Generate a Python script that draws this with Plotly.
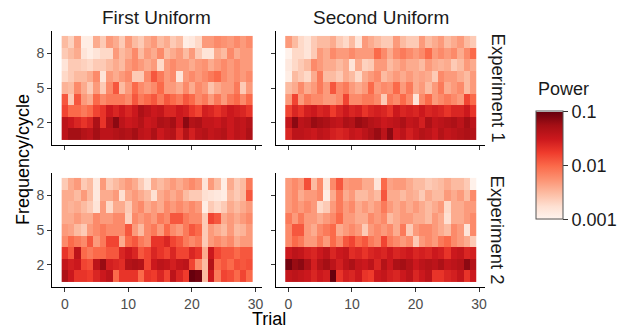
import plotly.graph_objects as go

# ---------------- data (log10 of power), rows listed from frequency 9 (top) down to 1 ----------------
trials = list(range(30))
freqs = [9, 8, 7, 6, 5, 4, 3, 2, 1]

exp1_first = [
    [-2.5,-2.65,-2.35,-2.9,-2.9,-2.4,-2.6,-2.3,-2.4,-2.6,-2.3,-2.5,-2.6,-2.4,-2.3,-2.5,-2.4,-2.6,-2.5,-2.9,-2.85,-2.7,-2.3,-2.3,-2.2,-2.25,-2.3,-2.2,-2.3,-2.2],
    [-2.6,-2.5,-2.4,-2.8,-2.9,-2.8,-2.7,-2.7,-2.3,-2.5,-2.4,-2.2,-2.5,-2.3,-2.4,-2.2,-2.5,-2.4,-2.3,-2.5,-2.3,-2.6,-2.8,-2.8,-2.4,-2.5,-2.2,-2.4,-2.3,-2.3],
    [-2.8,-2.6,-2.6,-2.65,-2.7,-2.6,-2.6,-2.5,-2.4,-2.5,-2.3,-2.2,-2.3,-2.4,-2.3,-2.7,-2.3,-2.2,-2.3,-2.3,-2.4,-2.3,-2.25,-2.4,-2.3,-2.2,-2.3,-2.2,-2.3,-2.3],
    [-2.7,-2.6,-2.5,-2.5,-2.4,-2.2,-2.8,-2.3,-2.4,-2.3,-2.2,-2.6,-2.6,-2.2,-1.9,-2.1,-2.3,-2.2,-2.8,-2.3,-2.2,-2.3,-2.2,-2.1,-2.0,-2.2,-2.3,-2.2,-2.3,-2.2],
    [-2.45,-2.5,-2.2,-2.4,-2.6,-2.3,-2.6,-2.2,-1.9,-2.5,-2.3,-2.0,-2.2,-2.3,-2.2,-2.0,-2.3,-2.3,-2.4,-2.2,-2.4,-2.2,-2.3,-2.55,-2.4,-2.3,-2.3,-2.1,-2.6,-2.3],
    [-1.9,-2.6,-1.9,-2.3,-2.4,-2.0,-2.2,-2.1,-2.1,-2.1,-2.2,-1.9,-2.1,-2.0,-1.9,-2.1,-1.9,-2.0,-2.1,-1.9,-2.0,-2.2,-2.1,-2.3,-2.1,-2.3,-2.1,-2.0,-2.2,-2.0],
    [-1.8,-2.0,-2.0,-2.1,-2.0,-1.8,-1.7,-1.5,-1.6,-1.5,-1.6,-1.5,-1.3,-1.4,-1.5,-1.45,-1.6,-1.6,-1.5,-1.55,-1.7,-1.8,-1.55,-1.6,-1.7,-1.6,-1.5,-1.55,-1.6,-1.7],
    [-1.4,-1.5,-1.6,-1.7,-1.6,-1.3,-1.7,-1.35,-1.15,-1.4,-1.5,-1.45,-1.35,-1.5,-1.45,-1.3,-1.35,-1.25,-1.5,-1.15,-1.35,-1.3,-1.45,-1.45,-1.5,-1.4,-1.5,-1.4,-1.45,-1.35],
    [-1.4,-1.25,-1.25,-1.35,-1.4,-1.25,-1.4,-1.4,-1.35,-1.3,-1.35,-1.25,-1.4,-1.45,-1.3,-1.5,-1.4,-1.35,-1.6,-1.35,-1.55,-1.4,-1.35,-1.45,-1.4,-1.35,-1.5,-1.4,-1.45,-1.3],
]

exp1_second = [
    [-2.3,-2.5,-2.7,-2.8,-2.6,-2.5,-2.5,-2.4,-2.6,-2.7,-2.5,-2.8,-2.3,-2.4,-2.5,-2.6,-2.6,-2.3,-2.5,-2.6,-2.6,-2.3,-2.5,-2.4,-2.3,-2.5,-2.4,-2.3,-2.5,-2.6],
    [-2.95,-2.7,-2.7,-2.8,-2.6,-2.3,-2.4,-2.2,-2.3,-2.3,-2.2,-2.3,-2.3,-2.3,-2.0,-2.2,-2.4,-2.2,-2.1,-2.2,-2.3,-2.2,-2.0,-2.3,-2.2,-2.3,-2.2,-2.4,-2.2,-2.0],
    [-2.85,-2.7,-2.6,-2.5,-2.2,-2.3,-2.4,-2.4,-2.5,-2.4,-2.8,-2.4,-2.65,-2.6,-2.3,-2.3,-2.5,-2.4,-2.3,-2.4,-2.4,-2.5,-2.3,-2.4,-2.45,-2.4,-2.6,-2.5,-2.3,-2.4],
    [-2.9,-2.5,-2.6,-2.7,-2.4,-2.1,-2.5,-2.5,-2.6,-2.4,-2.5,-2.7,-2.4,-2.3,-2.2,-2.5,-2.4,-2.3,-2.4,-2.3,-2.4,-2.35,-2.4,-2.6,-2.2,-2.3,-2.3,-2.4,-2.5,-2.3],
    [-2.5,-2.4,-2.2,-2.4,-2.3,-2.1,-2.3,-1.9,-2.2,-2.1,-2.3,-2.4,-2.3,-2.0,-2.3,-2.2,-2.25,-2.0,-2.3,-2.1,-2.4,-2.3,-2.5,-2.3,-2.1,-2.4,-2.3,-2.2,-2.5,-2.3],
    [-2.3,-1.8,-2.3,-2.1,-2.2,-2.2,-2.3,-2.3,-2.2,-1.8,-2.2,-2.2,-2.1,-2.1,-2.2,-2.6,-2.1,-2.2,-2.0,-2.2,-2.8,-2.2,-2.0,-2.3,-2.2,-2.1,-2.2,-2.3,-1.8,-2.0],
    [-1.8,-1.6,-1.7,-1.55,-1.5,-1.6,-1.55,-1.75,-1.6,-1.5,-1.6,-1.55,-1.7,-1.6,-1.55,-1.6,-1.7,-1.5,-1.6,-1.55,-1.6,-1.5,-1.6,-1.55,-1.6,-1.7,-1.6,-1.6,-1.5,-1.7],
    [-1.45,-1.15,-1.4,-1.35,-1.2,-1.25,-1.3,-1.4,-1.45,-1.3,-1.35,-1.2,-1.25,-1.35,-1.4,-1.5,-1.45,-1.4,-1.3,-1.45,-1.4,-1.55,-1.3,-1.45,-1.4,-1.35,-1.3,-1.4,-1.25,-1.4],
    [-1.6,-1.4,-1.4,-1.45,-1.5,-1.4,-1.45,-1.55,-1.6,-1.55,-1.45,-1.5,-1.4,-1.3,-1.2,-1.4,-1.15,-1.5,-1.4,-1.55,-1.45,-1.35,-1.4,-1.5,-1.35,-1.45,-1.4,-1.35,-1.3,-1.35],
]

exp2_first = [
    [-2.6,-2.4,-2.3,-2.6,-2.5,-2.85,-2.3,-2.6,-2.5,-2.4,-2.3,-2.4,-2.6,-2.8,-2.4,-2.5,-2.4,-2.3,-2.4,-2.3,-2.2,-2.3,-2.8,-2.3,-2.5,-2.9,-2.4,-2.6,-2.5,-2.1],
    [-2.4,-2.4,-2.5,-2.3,-2.5,-2.85,-2.4,-2.4,-2.3,-2.75,-2.4,-2.3,-2.4,-2.5,-2.75,-2.4,-2.3,-2.4,-2.3,-2.5,-2.6,-2.6,-2.75,-2.8,-2.85,-2.9,-2.5,-2.6,-2.5,-1.9],
    [-2.4,-2.45,-2.4,-2.5,-2.6,-2.8,-2.3,-2.7,-2.4,-2.4,-2.6,-2.3,-2.2,-2.4,-2.3,-2.4,-2.2,-2.3,-2.2,-2.3,-2.2,-2.3,-2.9,-2.6,-2.7,-2.6,-2.4,-2.5,-2.4,-2.3],
    [-2.4,-2.4,-2.3,-2.4,-2.4,-2.2,-2.3,-2.3,-2.2,-2.2,-2.65,-2.2,-2.3,-2.2,-2.3,-2.1,-2.2,-1.9,-1.9,-2.1,-2.2,-2.2,-2.6,-1.8,-1.9,-2.4,-2.3,-2.4,-2.3,-2.2],
    [-2.3,-2.35,-2.5,-2.6,-2.3,-2.2,-2.1,-2.2,-2.2,-2.2,-1.9,-2.3,-2.5,-2.2,-2.1,-2.3,-2.0,-2.2,-2.3,-2.1,-1.9,-2.0,-2.6,-2.3,-2.4,-2.5,-2.3,-2.5,-2.45,-2.3],
    [-2.2,-2.0,-2.1,-2.2,-1.9,-2.3,-2.1,-1.8,-1.8,-2.4,-2.0,-1.9,-2.1,-2.2,-1.7,-1.7,-1.6,-1.8,-1.9,-2.1,-2.2,-2.1,-2.6,-2.3,-2.2,-2.3,-2.2,-2.4,-2.3,-2.3],
    [-1.7,-1.9,-1.4,-2.0,-2.1,-2.0,-2.0,-1.9,-1.9,-1.6,-1.5,-1.6,-1.9,-1.8,-1.6,-1.7,-1.8,-1.6,-1.8,-1.8,-1.6,-1.7,-2.4,-1.5,-1.8,-1.9,-1.9,-2.0,-1.9,-1.9],
    [-1.45,-1.55,-1.5,-1.8,-1.85,-1.4,-1.2,-1.55,-1.6,-1.65,-1.35,-1.3,-1.35,-1.8,-1.5,-1.4,-1.45,-1.55,-1.45,-1.4,-1.8,-2.2,-2.5,-1.35,-2.0,-1.9,-2.0,-1.85,-1.9,-1.85],
    [-1.3,-1.5,-1.7,-1.7,-1.75,-1.6,-1.5,-1.4,-2.0,-1.7,-1.7,-1.7,-2.0,-1.7,-1.75,-1.6,-1.8,-1.4,-1.6,-1.75,-1.0,-1.05,-2.5,-1.5,-2.1,-1.8,-1.85,-2.0,-1.8,-2.0],
]

exp2_second = [
    [-2.3,-2.2,-2.3,-1.85,-2.5,-2.2,-2.8,-2.2,-1.9,-2.3,-2.25,-2.25,-2.4,-2.4,-2.8,-2.0,-2.35,-2.3,-2.3,-2.4,-2.5,-2.5,-2.6,-2.55,-2.5,-2.4,-2.5,-2.5,-2.6,-2.95],
    [-2.3,-2.2,-2.4,-2.3,-2.3,-2.2,-2.9,-2.4,-2.1,-2.4,-2.3,-2.5,-2.5,-2.4,-2.5,-1.9,-2.4,-2.4,-2.5,-2.4,-2.45,-2.6,-2.4,-2.5,-2.5,-2.3,-2.4,-2.3,-2.5,-2.2],
    [-2.3,-2.2,-2.3,-2.2,-2.3,-2.7,-2.6,-2.3,-2.1,-2.3,-2.2,-2.4,-2.3,-2.4,-2.3,-2.1,-2.3,-2.4,-2.3,-2.4,-2.3,-2.4,-2.5,-2.4,-2.3,-2.7,-2.4,-2.4,-2.3,-2.3],
    [-2.1,-2.3,-2.1,-2.3,-2.3,-2.4,-2.3,-2.2,-2.0,-2.3,-2.3,-2.4,-2.4,-2.2,-2.3,-2.2,-2.5,-2.4,-2.3,-2.3,-2.4,-2.4,-2.5,-2.3,-2.4,-2.75,-2.4,-2.4,-2.3,-2.2],
    [-2.2,-1.9,-1.9,-2.3,-2.4,-2.2,-2.1,-2.0,-2.4,-2.3,-2.2,-2.3,-2.6,-2.3,-2.2,-2.3,-2.2,-2.4,-2.1,-2.6,-2.3,-2.2,-2.2,-2.3,-2.4,-2.5,-2.2,-2.3,-2.8,-2.2],
    [-2.2,-2.0,-2.1,-2.3,-2.3,-2.1,-2.3,-2.0,-2.2,-1.9,-1.8,-2.0,-1.9,-2.1,-2.2,-1.8,-2.1,-2.2,-2.3,-2.2,-2.6,-2.3,-2.2,-2.3,-2.1,-2.0,-2.2,-2.3,-2.4,-2.6],
    [-1.5,-1.4,-1.45,-1.55,-1.6,-1.5,-1.4,-1.6,-1.5,-1.45,-1.65,-1.6,-1.7,-1.6,-1.55,-1.6,-1.5,-1.6,-1.55,-1.5,-1.6,-1.55,-1.6,-1.5,-1.55,-1.7,-1.5,-1.45,-1.6,-1.55],
    [-1.05,-1.2,-1.15,-1.3,-1.55,-1.35,-1.25,-1.4,-1.55,-1.4,-1.3,-1.45,-1.5,-1.4,-1.6,-1.35,-1.5,-1.3,-1.25,-1.35,-1.5,-1.4,-1.35,-1.4,-1.3,-1.45,-1.4,-1.35,-1.15,-1.35],
    [-1.45,-1.4,-1.45,-1.5,-1.6,-1.5,-1.55,-1.0,-1.7,-1.55,-1.6,-1.5,-1.7,-1.75,-1.5,-1.45,-1.55,-1.6,-1.5,-1.4,-1.6,-1.5,-1.4,-1.7,-1.7,-1.6,-1.55,-1.45,-1.7,-1.5],
]

col_labels = ["First Uniform", "Second Uniform"]
row_labels = ["Experiment 1", "Experiment 2"]
x_ticks = [0, 10, 20, 30]
y_ticks = [2, 5, 8]
power_tickvals = [-3, -2, -1]
power_ticktext = ["0.001", "0.01", "0.1"]

# ---------------- styling ----------------
W, H = 626, 330
FONT = "Liberation Sans, Arial, Helvetica, sans-serif"
reds9 = ["#FFF5F0", "#FEE0D2", "#FCBBA1", "#FC9272", "#FB6A4A",
         "#EF3B2C", "#CB181D", "#A50F15", "#67000D"]
colorscale = [[i / 8, c] for i, c in enumerate(reds9)]

def px_x(p):
    return p / W

def px_y(p):
    return 1 - p / H

x_doms = [[px_x(52.3), px_x(262.6)], [px_x(276.6), px_x(487.0)]]
y_doms = [[px_y(145.25), px_y(30.75)], [px_y(287.25), px_y(172.75)]]

panels = [[exp1_first, exp1_second], [exp2_first, exp2_second]]

fig = go.Figure()
layout_axes = {}
k = 0
for r in range(2):
    for c in range(2):
        k += 1
        xa = "x" if k == 1 else f"x{k}"
        ya = "y" if k == 1 else f"y{k}"
        fig.add_trace(go.Heatmap(
            x=trials, y=freqs, z=panels[r][c],
            coloraxis="coloraxis", xaxis=xa, yaxis=ya, xgap=0, ygap=0,
        ))
        xkey = "xaxis" if k == 1 else f"xaxis{k}"
        ykey = "yaxis" if k == 1 else f"yaxis{k}"
        layout_axes[xkey] = dict(
            domain=x_doms[c], anchor=ya, range=[-2, 31],
            tickvals=x_ticks, showticklabels=(r == 1),
            ticks="outside", ticklen=4, tickwidth=1, tickcolor="#333333",
            showline=True, linecolor="#000000", linewidth=1,
            showgrid=False, zeroline=False,
            tickfont=dict(family=FONT, size=14, color="#4d4d4d"),
        )
        layout_axes[ykey] = dict(
            domain=y_doms[r], anchor=xa, range=[0.05, 9.95],
            tickvals=y_ticks, showticklabels=(c == 0),
            ticks="outside", ticklen=4, tickwidth=1, tickcolor="#333333",
            showline=True, linecolor="#000000", linewidth=1,
            showgrid=False, zeroline=False,
            tickfont=dict(family=FONT, size=14, color="#4d4d4d"),
        )

fig.update_layout(**layout_axes)

annotations = []
for c, lab in enumerate(col_labels):
    annotations.append(dict(
        text=lab, x=(x_doms[c][0] + x_doms[c][1]) / 2, y=px_y(17),
        xref="paper", yref="paper", showarrow=False,
        xanchor="center", yanchor="middle",
        font=dict(family=FONT, size=19, color="#1a1a1a"),
    ))
for r, lab in enumerate(row_labels):
    annotations.append(dict(
        text=lab, x=px_x(500), y=(y_doms[r][0] + y_doms[r][1]) / 2,
        xref="paper", yref="paper", showarrow=False, textangle=90,
        xanchor="center", yanchor="middle",
        font=dict(family=FONT, size=18.5, color="#1a1a1a"),
    ))
annotations.append(dict(
    text="Trial", x=(x_doms[0][0] + x_doms[1][1]) / 2, y=px_y(319),
    xref="paper", yref="paper", showarrow=False,
    xanchor="center", yanchor="middle",
    font=dict(family=FONT, size=18, color="#000000"),
))
annotations.append(dict(
    text="Frequency/cycle", x=px_x(23), y=(y_doms[1][0] + y_doms[0][1]) / 2,
    xref="paper", yref="paper", showarrow=False, textangle=-90,
    xanchor="center", yanchor="middle",
    font=dict(family=FONT, size=18, color="#000000"),
))
annotations.append(dict(
    text="Power", x=px_x(538), y=px_y(89),
    xref="paper", yref="paper", showarrow=False,
    xanchor="left", yanchor="middle",
    font=dict(family=FONT, size=18, color="#1a1a1a"),
))

fig.update_layout(
    width=W, height=H,
    margin=dict(l=0, r=0, t=0, b=0),
    paper_bgcolor="white", plot_bgcolor="white",
    showlegend=False,
    annotations=annotations,
    coloraxis=dict(
        colorscale=colorscale, cmin=-3, cmax=-1,
        colorbar=dict(
            tickvals=power_tickvals, ticktext=power_ticktext,
            ticks="outside", ticklen=5, tickwidth=1, tickcolor="#333333",
            tickfont=dict(family=FONT, size=18, color="#1a1a1a"),
            lenmode="pixels", len=107.6, thicknessmode="pixels", thickness=27,
            x=px_x(537.3), xanchor="left", y=px_y(165.5), yanchor="middle",
            outlinewidth=1, outlinecolor="#555555", xpad=0, ypad=0,
        ),
    ),
)

fig.write_html("out.html", config={"displayModeBar": False},
               post_script="document.body.style.margin='0px';")
